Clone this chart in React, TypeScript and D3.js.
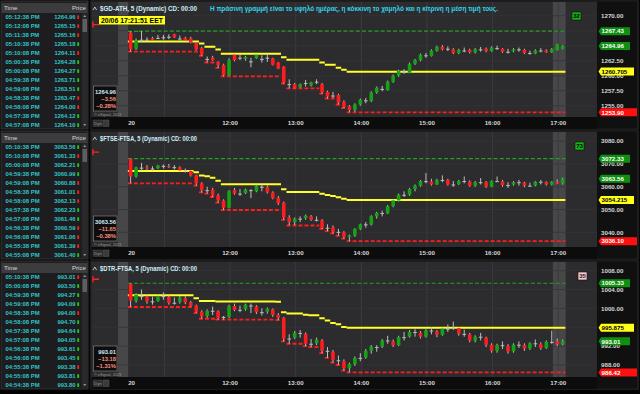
import React from 'react';
import * as d3 from 'd3';

// ---------- DATA ----------
const timeLabels = ['20', '12:00', '13:00', '14:00', '15:00', '16:00', '17:00'];
const timeLabelBars = [0, 18, 30, 42, 54, 66, 78];
const hourGridBars = [6, 18, 30, 42, 54, 66, 78];

// [open, high, low, close] 5-minute bars from 10:30
const gdBars: number[][] = [
  [1267.2, 1267.4, 1264.0, 1264.4], [1264.5, 1266.2, 1264.3, 1265.9], [1266.0, 1267.43, 1265.6, 1266.0], [1266.0, 1266.4, 1265.7, 1266.0],
  [1266.3, 1266.5, 1265.9, 1266.0], [1266.3, 1266.8, 1266.1, 1266.3], [1266.4, 1266.8, 1266.0, 1266.4], [1266.5, 1266.9, 1266.1, 1266.5],
  [1266.9, 1267.0, 1266.3, 1266.4], [1266.2, 1266.7, 1265.9, 1266.2], [1266.3, 1266.5, 1265.8, 1265.9], [1266.2, 1266.5, 1265.4, 1265.5],
  [1265.5, 1265.6, 1264.2, 1264.4], [1264.6, 1264.8, 1263.3, 1263.5], [1262.8, 1263.2, 1262.2, 1262.8], [1263.0, 1263.3, 1262.5, 1262.6],
  [1262.3, 1262.4, 1261.3, 1261.8], [1261.8, 1262.0, 1259.9, 1260.1], [1260.1, 1262.9, 1260.0, 1262.6], [1263.5, 1263.6, 1262.4, 1262.6],
  [1263.0, 1263.5, 1262.6, 1263.0], [1262.8, 1263.3, 1262.5, 1263.1], [1262.4, 1263.0, 1261.4, 1262.4], [1262.9, 1263.6, 1262.8, 1263.5],
  [1262.8, 1263.4, 1262.2, 1262.8], [1263.0, 1263.6, 1262.3, 1263.0], [1262.9, 1263.0, 1261.7, 1261.8], [1262.2, 1262.3, 1261.1, 1261.2],
  [1261.5, 1261.6, 1258.7, 1258.9], [1258.6, 1259.4, 1257.9, 1258.6], [1258.6, 1258.8, 1257.9, 1258.0], [1258.1, 1258.7, 1258.0, 1258.6],
  [1258.8, 1259.3, 1258.2, 1258.8], [1258.4, 1259.0, 1258.2, 1258.9], [1259.0, 1259.4, 1258.6, 1259.0], [1258.6, 1258.8, 1257.0, 1257.3],
  [1257.3, 1257.5, 1256.2, 1256.5], [1256.7, 1257.3, 1256.3, 1256.7], [1256.8, 1257.0, 1255.2, 1255.5], [1255.6, 1255.9, 1254.6, 1254.8],
  [1254.9, 1255.1, 1253.9, 1254.3], [1254.3, 1255.4, 1254.0, 1255.2], [1255.2, 1256.2, 1255.0, 1256.0], [1255.9, 1256.3, 1255.4, 1255.9],
  [1255.8, 1257.4, 1255.6, 1257.2], [1257.2, 1258.2, 1257.0, 1258.0], [1257.8, 1258.3, 1257.4, 1257.8], [1257.6, 1259.2, 1257.5, 1259.0],
  [1259.0, 1260.2, 1258.8, 1260.0], [1260.0, 1261.0, 1259.8, 1260.8], [1260.7, 1261.1, 1260.3, 1260.7], [1260.5, 1262.2, 1260.4, 1262.0],
  [1262.0, 1262.8, 1261.8, 1262.6], [1262.6, 1263.7, 1262.4, 1263.5], [1263.4, 1263.8, 1263.0, 1263.4], [1263.3, 1264.4, 1263.2, 1264.2],
  [1264.2, 1265.0, 1264.0, 1264.8], [1264.8, 1265.1, 1264.2, 1264.4], [1264.5, 1264.9, 1264.1, 1264.5], [1264.4, 1264.6, 1263.6, 1263.8],
  [1263.8, 1264.5, 1263.6, 1264.3], [1264.2, 1264.7, 1263.9, 1264.2], [1264.3, 1264.5, 1263.7, 1263.9], [1263.9, 1264.6, 1263.7, 1264.4],
  [1264.4, 1264.8, 1264.0, 1264.4], [1264.5, 1264.7, 1263.9, 1264.1], [1264.1, 1264.9, 1264.0, 1264.7], [1264.6, 1265.0, 1264.3, 1264.6],
  [1264.5, 1264.6, 1263.8, 1264.0], [1264.0, 1264.5, 1263.7, 1264.0], [1264.1, 1264.6, 1263.9, 1264.4], [1264.4, 1264.7, 1264.0, 1264.4],
  [1264.3, 1264.5, 1263.6, 1263.8], [1263.8, 1264.2, 1263.5, 1263.8], [1263.7, 1264.4, 1263.6, 1264.2], [1264.2, 1264.6, 1263.9, 1264.2],
  [1264.2, 1264.4, 1263.8, 1263.9], [1263.9, 1264.6, 1263.8, 1264.4], [1264.3, 1265.3, 1264.2, 1265.2], [1264.5, 1265.1, 1264.4, 1264.96],
];

const ftseBars: number[][] = [
  [3072.3, 3072.33, 3061.5, 3064.5], [3064.5, 3068.8, 3064.0, 3068.5], [3068.4, 3070.5, 3067.0, 3068.4], [3068.5, 3069.5, 3067.2, 3068.0],
  [3068.0, 3069.0, 3067.0, 3068.0], [3068.2, 3069.6, 3067.8, 3069.3], [3069.2, 3069.8, 3068.0, 3069.2], [3069.0, 3070.0, 3068.2, 3068.6],
  [3068.6, 3069.5, 3067.6, 3068.6], [3068.5, 3069.0, 3066.8, 3067.2], [3067.2, 3068.0, 3066.2, 3067.2], [3067.0, 3067.4, 3064.5, 3065.0],
  [3065.0, 3065.3, 3060.5, 3061.5], [3061.5, 3062.0, 3057.5, 3058.5], [3058.5, 3060.0, 3057.0, 3058.5], [3058.8, 3059.5, 3055.5, 3056.2],
  [3056.2, 3057.0, 3053.0, 3054.0], [3054.0, 3054.5, 3049.8, 3050.8], [3050.8, 3058.5, 3050.5, 3058.0], [3058.5, 3059.5, 3056.5, 3057.0],
  [3057.0, 3059.0, 3056.0, 3057.0], [3057.2, 3059.2, 3056.8, 3058.8], [3058.5, 3059.0, 3055.0, 3058.5], [3058.0, 3061.0, 3057.6, 3060.5],
  [3060.0, 3061.0, 3058.0, 3060.0], [3059.8, 3060.6, 3057.0, 3057.5], [3057.5, 3058.0, 3054.5, 3055.0], [3055.2, 3056.0, 3052.0, 3052.8],
  [3053.0, 3053.5, 3045.5, 3046.5], [3046.5, 3047.5, 3043.0, 3044.5], [3044.5, 3046.5, 3043.2, 3046.0], [3046.0, 3047.0, 3044.5, 3046.0],
  [3046.2, 3047.8, 3045.5, 3047.3], [3047.0, 3047.6, 3045.0, 3045.5], [3045.5, 3047.0, 3044.8, 3045.5], [3045.3, 3045.8, 3041.5, 3042.0],
  [3042.0, 3043.5, 3040.5, 3042.0], [3042.2, 3043.0, 3039.5, 3040.2], [3040.2, 3041.5, 3038.5, 3040.2], [3040.0, 3040.5, 3037.2, 3038.0],
  [3038.0, 3039.0, 3036.1, 3038.6], [3038.6, 3041.8, 3038.0, 3041.5], [3041.5, 3043.8, 3041.0, 3043.5], [3043.5, 3044.5, 3042.0, 3043.5],
  [3043.4, 3047.5, 3043.0, 3047.0], [3047.0, 3049.0, 3046.0, 3048.5], [3048.5, 3049.5, 3047.0, 3048.5], [3048.3, 3052.0, 3048.0, 3051.5],
  [3051.5, 3054.5, 3051.0, 3054.0], [3054.0, 3057.0, 3053.5, 3056.5], [3056.5, 3058.0, 3055.5, 3056.5], [3056.5, 3059.5, 3056.0, 3059.0],
  [3059.0, 3061.0, 3058.0, 3060.5], [3060.5, 3063.0, 3060.0, 3062.5], [3062.5, 3066.0, 3061.5, 3062.5], [3062.3, 3063.5, 3060.5, 3061.0],
  [3061.0, 3063.5, 3060.8, 3063.0], [3063.0, 3065.0, 3062.0, 3063.0], [3063.0, 3063.5, 3060.5, 3061.0], [3061.0, 3062.5, 3060.0, 3061.0],
  [3061.2, 3063.0, 3060.8, 3062.5], [3062.5, 3064.5, 3061.5, 3062.5], [3062.3, 3062.8, 3060.0, 3060.5], [3060.5, 3062.5, 3060.0, 3062.0],
  [3062.0, 3063.8, 3061.0, 3062.0], [3062.0, 3062.5, 3059.5, 3060.0], [3060.0, 3062.8, 3059.8, 3062.5], [3062.5, 3064.5, 3062.0, 3062.5],
  [3062.4, 3063.0, 3060.0, 3060.8], [3060.8, 3062.0, 3059.5, 3060.8], [3061.0, 3062.5, 3060.5, 3062.0], [3062.0, 3063.0, 3060.5, 3062.0],
  [3061.8, 3062.2, 3059.8, 3060.5], [3060.5, 3061.8, 3060.0, 3060.5], [3060.6, 3062.5, 3060.2, 3062.2], [3062.2, 3063.0, 3061.0, 3062.2],
  [3062.0, 3062.4, 3060.5, 3061.0], [3061.0, 3062.5, 3060.6, 3062.2], [3062.2, 3063.2, 3061.2, 3061.5], [3061.5, 3064.0, 3061.0, 3063.56],
];

const dtrBars: number[][] = [
  [1005.2, 1005.33, 1000.3, 1001.6], [1001.6, 1003.2, 1001.2, 1002.9], [1002.6, 1004.0, 1001.8, 1002.6], [1002.5, 1003.0, 1001.0, 1001.5],
  [1001.5, 1002.5, 1000.8, 1001.5], [1001.6, 1003.0, 1001.4, 1002.6], [1002.6, 1003.4, 1001.8, 1002.6], [1002.4, 1002.8, 1000.8, 1001.2],
  [1001.2, 1002.3, 1000.8, 1001.2], [1001.4, 1002.6, 1001.0, 1002.3], [1002.2, 1002.6, 1000.9, 1001.3], [1001.3, 1001.6, 1000.4, 1000.6],
  [1000.6, 1000.8, 999.0, 999.3], [999.3, 999.6, 997.8, 998.3], [998.4, 999.8, 998.0, 999.5], [999.5, 1000.4, 998.6, 999.5],
  [999.4, 999.6, 997.6, 998.0], [998.2, 998.4, 997.6, 998.2], [998.2, 1000.8, 997.9, 1000.5], [1000.5, 1001.0, 999.4, 999.7],
  [999.7, 1000.6, 999.2, 999.7], [999.8, 1001.0, 999.5, 1000.8], [1000.6, 1001.0, 999.0, 1000.6], [1000.4, 1000.7, 998.8, 999.2],
  [999.2, 1000.0, 998.5, 999.2], [999.3, 1000.2, 998.9, 999.9], [999.8, 1000.0, 998.2, 998.6], [998.6, 999.0, 997.5, 998.0],
  [998.0, 998.2, 993.0, 993.6], [993.6, 994.5, 992.5, 993.6], [993.8, 995.2, 993.5, 994.8], [994.8, 995.4, 993.8, 994.8],
  [994.6, 994.9, 992.0, 992.5], [992.5, 993.5, 991.8, 992.5], [992.6, 993.8, 992.2, 993.4], [993.2, 993.5, 990.5, 991.0],
  [991.0, 991.8, 989.5, 991.0], [990.8, 991.2, 988.5, 989.0], [989.0, 990.0, 988.0, 989.0], [988.8, 989.2, 986.8, 987.3],
  [987.3, 988.5, 986.42, 988.2], [988.2, 989.8, 987.8, 989.5], [989.5, 990.5, 988.8, 989.5], [989.6, 991.4, 989.3, 991.0],
  [991.0, 992.2, 990.4, 991.9], [991.8, 992.2, 990.8, 991.8], [991.9, 993.5, 991.6, 993.2], [993.2, 994.2, 992.5, 993.2],
  [993.0, 993.4, 991.8, 992.2], [992.2, 994.2, 992.0, 993.9], [993.9, 995.0, 993.2, 993.9], [994.0, 995.4, 993.8, 995.0],
  [995.0, 995.6, 994.0, 995.0], [994.8, 995.2, 993.6, 994.0], [994.0, 995.6, 993.8, 995.3], [995.3, 996.0, 994.5, 995.3],
  [995.1, 995.4, 993.9, 994.4], [994.4, 996.0, 994.2, 995.7], [995.7, 996.6, 995.0, 995.7], [995.9, 997.2, 995.4, 995.9],
  [995.8, 996.0, 994.2, 994.6], [994.6, 995.5, 994.0, 994.6], [994.5, 994.8, 992.8, 993.2], [993.2, 994.3, 992.8, 994.0],
  [994.0, 994.8, 993.2, 994.0], [993.8, 994.0, 991.8, 992.3], [992.3, 992.6, 990.6, 991.0], [991.0, 992.5, 990.6, 992.2],
  [992.2, 993.0, 991.4, 992.2], [992.0, 992.4, 990.4, 990.9], [990.9, 992.6, 990.6, 992.3], [992.3, 993.0, 991.6, 992.3],
  [992.2, 992.6, 991.0, 991.5], [991.5, 992.8, 991.2, 992.6], [992.6, 993.4, 991.8, 992.6], [992.4, 992.8, 991.2, 991.6],
  [991.6, 993.2, 991.4, 992.9], [992.9, 995.3, 992.5, 992.9], [993.0, 993.6, 992.0, 992.4], [992.4, 993.4, 992.2, 993.01],
];

// time & sales lists
const gdTimes = ['05:12:38 PM', '05:12:08 PM', '05:11:38 PM', '05:10:38 PM', '05:10:08 PM', '05:00:38 PM', '05:00:08 PM', '04:59:38 PM', '04:59:08 PM', '04:58:38 PM', '04:58:08 PM', '04:57:38 PM', '04:57:08 PM'];
const gdPrices = ['1264.96', '1265.15', '1265.16', '1265.18', '1264.11', '1264.28', '1264.27', '1263.71', '1263.51', '1263.47', '1264.00', '1264.12', '1264.10'];
const gdDirs = ['d', 'd', 'd', 'u', 'd', 'u', 'u', 'u', 'u', 'd', 'd', 'u', 'u'];
const ftseTimes = ['05:10:38 PM', '05:10:08 PM', '05:00:08 PM', '04:59:38 PM', '04:59:08 PM', '04:58:38 PM', '04:58:08 PM', '04:57:38 PM', '04:57:08 PM', '04:56:38 PM', '04:56:08 PM', '04:55:38 PM', '04:55:08 PM'];
const ftsePrices = ['3063.56', '3061.33', '3062.21', '3060.99', '3060.88', '3061.01', '3062.13', '3062.23', '3061.46', '3060.59', '3061.06', '3061.39', '3061.40'];
const ftseDirs = ['u', 'd', 'u', 'u', 'd', 'd', 'd', 'u', 'u', 'd', 'd', 'd', 'u'];
const dtrTimes = ['05:10:38 PM', '05:00:08 PM', '04:59:38 PM', '04:59:08 PM', '04:58:38 PM', '04:58:08 PM', '04:57:38 PM', '04:57:08 PM', '04:56:38 PM', '04:56:08 PM', '04:55:38 PM', '04:55:08 PM', '04:54:38 PM'];
const dtrPrices = ['993.01', '993.50', '994.27', '994.09', '994.00', '994.70', '994.64', '994.05', '993.61', '993.45', '993.38', '993.81', '993.80'];
const dtrDirs = ['d', 'u', 'u', 'u', 'd', 'u', 'u', 'u', 'u', 'u', 'd', 'u', 'u'];

// grid levels and the tick labels that are visible in the axis
const gdGrid = [1270, 1267.5, 1265, 1262.5, 1260, 1257.5, 1255];
const gdTicks = [1270, 1262.5, 1260, 1257.5, 1255];
const ftseGrid = [3080, 3070, 3060, 3050, 3040];
const ftseTicks = [3080, 3070, 3060, 3050, 3040];
const dtrGrid = [1008, 1004, 1000, 996, 992, 988];
const dtrTicks = [1008, 1004, 1000, 992, 988];

const gdLevels = { high: '1267.43', last: '1264.96', mid: '1260.705', low: '1253.90' };
const ftseLevels = { high: '3072.33', last: '3063.56', mid: '3054.215', low: '3036.10' };
const dtrLevels = { high: '1005.33', last: '993.01', mid: '995.875', low: '986.42' };

const gdInfo = ['1264.96', '\u22123.56', '\u22120.28%'];
const ftseInfo = ['3063.56', '\u221211.65', '\u22120.38%'];
const dtrInfo = ['993.01', '\u221213.18', '\u22121.31%'];

const prevClose = [1268.52, 3075.21, 1006.19];

const titles = ['$GD-ATH, 5 (Dynamic) CD: 00:00', '$FTSE-FTSA, 5 (Dynamic) CD: 00:00', '$DTR-FTSA, 5 (Dynamic) CD: 00:00'];
const countdowns = ['32', '73', '35'];
const noteText = 'Η πράσινη γραμμή είναι το υψηλό ημέρας, η κόκκινη το χαμηλό και η κίτρινη η μέση τιμή τους.';
const stampText = '20/06 17:21:51 EET';

// ---------- CONFIG ----------
const FONT = '"Liberation Sans", Arial, sans-serif';
const panels = [
  { bars: gdBars, grid: gdGrid, ticks: gdTicks, levels: gdLevels, info: gdInfo, times: gdTimes, prices: gdPrices, dirs: gdDirs, domain: [1253.12, 1272.12], cdX: 572, cdBg: '#12b312', cdFg: '#000' },
  { bars: ftseBars, grid: ftseGrid, ticks: ftseTicks, levels: ftseLevels, info: ftseInfo, times: ftseTimes, prices: ftsePrices, dirs: ftseDirs, domain: [3033.55, 3083.61], cdX: 575, cdBg: '#12b312', cdFg: '#000' },
  { bars: dtrBars, grid: dtrGrid, ticks: dtrTicks, levels: dtrLevels, info: dtrInfo, times: dtrTimes, prices: dtrPrices, dirs: dtrDirs, domain: [985.45, 1009.63], cdX: 578, cdBg: '#f8c8cc', cdFg: '#222' },
];

const PLOT_L = 91, PLOT_R = 597, AX_R = 637;
const C_GREEN = '#13a313', C_RED = '#ff1c1c', C_WICK = '#bdbdbd', C_YEL = '#ffff2e';

function runs(vals: number[]) {
  const out: { a: number; b: number; v: number }[] = [];
  vals.forEach((v, i) => {
    const last = out[out.length - 1];
    if (last && last.v === v) last.b = i;
    else out.push({ a: i, b: i, v });
  });
  return out;
}

function Panel({ k }: { k: number }) {
  const cfg = panels[k];
  const oy = k * 130;
  const n = cfg.bars.length;
  const x = d3.scaleLinear().domain([0, n - 1]).range([130.6, 562.7]);
  const bw = (x(1) - x(0));
  const y = d3.scaleLinear().domain(cfg.domain).range([oy + 117, oy + 3]);

  let hi = -Infinity, lo = Infinity;
  const his: number[] = [], los: number[] = [], mids: number[] = [];
  cfg.bars.forEach((b) => {
    hi = Math.max(hi, b[1]); lo = Math.min(lo, b[2]);
    his.push(hi); los.push(lo); mids.push((hi + lo) / 2);
  });
  const seg = (vals: number[]) => runs(vals).map((r) => `M${x(r.a) - bw / 2},${y(r.v)}H${x(r.b) + bw / 2}`).join('');

  const lv = cfg.levels;
  const boxes = [
    { v: +lv.high, t: lv.high, bg: '#0f8f0f', fg: '#fff', w: 30 },
    { v: +lv.last, t: lv.last, bg: '#0f8f0f', fg: '#fff', w: 30 },
    { v: +lv.mid, t: lv.mid, bg: '#ffff1a', fg: '#000', w: 34 },
    { v: +lv.low, t: lv.low, bg: '#ff1010', fg: '#fff', w: 37 },
  ];

  return (
    <g>
      {/* list panel */}
      <rect x={1} y={oy + 1} width={87} height={128} fill="#1d1d1f" stroke="#3a3a3a" strokeWidth={0.8} />
      <rect x={1.5} y={oy + 3} width={86} height={10} fill="#3c3c3e" />
      <text x={4} y={oy + 10.3} fontSize={6.2} fill="#d8d8d8" fontFamily={FONT}>Time</text>
      <text x={86} y={oy + 10.3} fontSize={6.2} fill="#d8d8d8" textAnchor="end" fontFamily={FONT}>Price</text>
      <rect x={82} y={oy + 13.5} width={5.5} height={114} fill="#29292b" />
      <rect x={82.5} y={oy + 19} width={4.5} height={13} fill="#5e5e60" />
      <path d={`M83.3,${oy + 17}L84.75,${oy + 15}L86.2,${oy + 17}Z`} fill="#9a9a9a" />
      <path d={`M83.3,${oy + 124}L84.75,${oy + 126}L86.2,${oy + 124}Z`} fill="#9a9a9a" />
      <clipPath id={`lc${k}`}><rect x={1} y={oy + 13} width={81} height={115} /></clipPath>
      <g clipPath={`url(#lc${k})`} fontFamily={FONT} fontWeight="bold" fontSize={5.9}>
        {cfg.times.map((t, i) => {
          const cy = oy + 17.3 + i * 9;
          return (
            <g key={i}>
              <text x={5.5} y={cy + 2.1} fill="#2fc4c8">{t}</text>
              <text x={75.5} y={cy + 2.1} fill="#2fc4c8" textAnchor="end">{cfg.prices[i]}</text>
              <rect x={77.3} y={cy - 2} width={1.8} height={3.6} fill={cfg.dirs[i] === 'u' ? '#22d022' : '#ff2020'} />
            </g>
          );
        })}
      </g>

      {/* plot */}
      <rect x={PLOT_L} y={oy + 1} width={AX_R - PLOT_L + 1} height={128} fill="#0b0b0b" stroke="#3c3c3c" strokeWidth={0.8} />
      <rect x={PLOT_L + 0.5} y={oy + 2} width={PLOT_R - PLOT_L - 0.5} height={115} fill="#2c2c2f" />
      <rect x={x(-2.3)} y={oy + 2} width={x(-0.45) - x(-2.3)} height={115} fill="#47474a" />
      <rect x={x(n - 2.8)} y={oy + 2} width={x(n - 0.45) - x(n - 2.8)} height={115} fill="#47474a" />
      {hourGridBars.map((b) => (
        <line key={b} x1={x(b) + 1} x2={x(b) + 1} y1={oy + 2} y2={oy + 117} stroke="#3b3b3f" strokeWidth={1} />
      ))}
      {cfg.grid.map((t) => (
        <line key={t} x1={PLOT_L + 1} x2={PLOT_R} y1={y(t)} y2={y(t)} stroke="#353538" strokeWidth={0.8} />
      ))}

      {/* prev close marker */}
      <path d={`M93,${y(prevClose[k]) - 3}V${y(prevClose[k]) + 3}M93,${y(prevClose[k])}H99`} stroke="#ff2020" strokeWidth={1.4} fill="none" />

      {/* level lines */}
      <path d={seg(his)} stroke="#22a022" strokeWidth={1.2} strokeDasharray="4,2.2" fill="none" />
      <path d={seg(mids)} stroke={C_YEL} strokeWidth={2} fill="none" />
      <path d={seg(los)} stroke={C_RED} strokeWidth={1.8} strokeDasharray="4,2" fill="none" />

      {/* candles */}
      {cfg.bars.map((b, i) => {
        const [o, h, l, c] = b;
        const cx = x(i);
        const col = c > o ? C_GREEN : c < o ? C_RED : C_WICK;
        const top = y(Math.max(o, c));
        const bh = Math.max(1, y(Math.min(o, c)) - top);
        return (
          <g key={i}>
            <line x1={cx} x2={cx} y1={y(h)} y2={y(l)} stroke={C_WICK} strokeWidth={1} />
            <rect x={cx - 1.8} y={top} width={3.6} height={bh} fill={col} />
          </g>
        );
      })}

      {/* header */}
      <path d={`M93,${oy + 10}L94.8,${oy + 7}L96.6,${oy + 10}`} stroke="#cfe9f5" strokeWidth={0.8} fill="none" />
      <text x={100} y={oy + 10.6} fontSize={6.3} fontWeight="bold" fill="#cdeef7" fontFamily={FONT} textLength={97} lengthAdjust="spacingAndGlyphs">{titles[k]}</text>
      {k === 0 && (
        <>
          <text x={210} y={oy + 10.6} fontSize={6.5} fontWeight="bold" fill="#35d3ea" fontFamily={FONT} textLength={288} lengthAdjust="spacingAndGlyphs">{noteText}</text>
          <rect x={99} y={16} width={66} height={8.5} fill="#ffff1a" />
          <text x={101} y={22.7} fontSize={6.4} fontWeight="bold" fill="#000" fontFamily={FONT} textLength={62} lengthAdjust="spacingAndGlyphs">{stampText}</text>
        </>
      )}

      {/* countdown */}
      <rect x={cfg.cdX} y={oy + 12} width={9} height={8} fill={cfg.cdBg} stroke="#111" strokeWidth={0.6} />
      <text x={cfg.cdX + 4.5} y={oy + 18.3} fontSize={6} fontWeight="bold" fill={cfg.cdFg} textAnchor="middle" fontFamily={FONT}>{countdowns[k]}</text>

      {/* info box */}
      <rect x={93.5} y={oy + 86} width={23.5} height={25} fill="#0d0d0d" stroke="#8a8a8a" strokeWidth={0.6} />
      <text x={116} y={oy + 93.5} fontSize={5.8} fontWeight="bold" fill="#cdeef7" textAnchor="end" fontFamily={FONT}>{cfg.info[0]}</text>
      <text x={116} y={oy + 100.8} fontSize={5.8} fontWeight="bold" fill="#ff8c7c" textAnchor="end" fontFamily={FONT}>{cfg.info[1]}</text>
      <text x={116} y={oy + 108} fontSize={5.8} fontWeight="bold" fill="#ff8c7c" textAnchor="end" fontFamily={FONT}>{cfg.info[2]}</text>
      <text x={94} y={oy + 115.5} fontSize={3.8} fill="#9a9a9a" fontFamily={FONT}>© eSignal, 2023</text>

      {/* x axis band */}
      <rect x={PLOT_L + 0.5} y={oy + 117} width={PLOT_R - PLOT_L - 0.5} height={12} fill="#0c0c0c" />
      <rect x={93} y={oy + 120} width={9} height={6.5} fill="#2e2e30" stroke="#555" strokeWidth={0.4} />
      <text x={94} y={oy + 125} fontSize={4.4} fill="#9a9a9a" fontFamily={FONT}>Dyn</text>
      <rect x={103} y={oy + 120} width={6} height={6.5} fill="#3a3a3c" stroke="#666" strokeWidth={0.4} />
      {timeLabels.map((t, i) => (
        <text key={t} x={x(timeLabelBars[i]) + 1} y={oy + 125.2} fontSize={6.2} fontWeight="bold" fill="#d4d4d4" textAnchor="middle" fontFamily={FONT}>{t}</text>
      ))}

      {/* right axis */}
      <rect x={PLOT_R} y={oy + 1.5} width={AX_R - PLOT_R} height={127} fill="#101010" />
      {cfg.ticks.map((t) => (
        <text key={t} x={601} y={y(t) + 2.2} fontSize={6.2} fontWeight="bold" fill="#d6d6d6" fontFamily={FONT}>{t.toFixed(2)}</text>
      ))}
      {boxes.map((bx, i) => {
        const yy = y(bx.v);
        return (
          <g key={i}>
            <path d={`M598.5,${yy}L601,${yy - 4}H${600 + bx.w}V${yy + 4}H601Z`} fill={bx.bg} />
            <text x={601.5} y={yy + 2.2} fontSize={6.2} fontWeight="bold" fill={bx.fg} fontFamily={FONT}>{bx.t}</text>
          </g>
        );
      })}
    </g>
  );
}

export default function App() {
  return (
    <svg width={640} height={394} viewBox="0 0 640 394" style={{ position: 'fixed', left: 0, top: 0, display: 'block' }}>
      <rect width={640} height={394} fill="#060606" />
      {panels.map((_, k) => <Panel key={k} k={k} />)}
      <rect x={0.5} y={390.5} width={639} height={3} fill="#000" />
    </svg>
  );
}
